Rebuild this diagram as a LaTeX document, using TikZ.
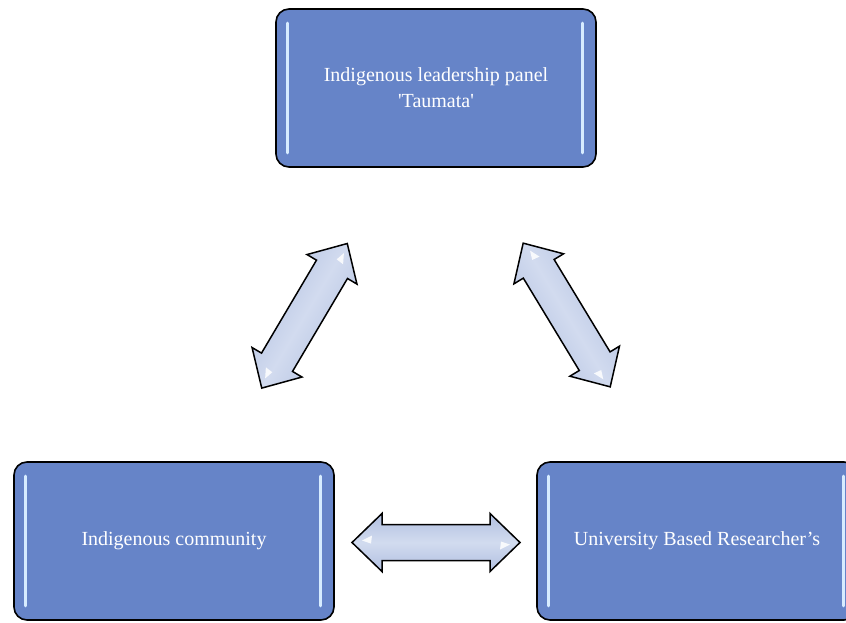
\documentclass[tikz,border=0pt]{standalone}
\usepackage{fontspec}
\setmainfont{Liberation Serif}
\usetikzlibrary{calc}
\definecolor{boxblue}{RGB}{102,132,200}
\definecolor{arrowblue}{RGB}{176,191,224}
\definecolor{arrowlight}{RGB}{210,219,239}
\definecolor{glow}{RGB}{215,236,255}
\tikzset{
  box/.style={draw=black, line width=1.6pt, fill=boxblue, rounded corners=13pt,
    minimum width=320pt, minimum height=158pt, text=white, align=center,
    font=\fontsize{20}{26}\selectfont, inner sep=0pt},
  hilite/.style={draw=glow, line width=3.2pt, line cap=round},
  arrowshape/.style={draw=black, line width=1.5pt, line join=miter,
    top color=arrowblue, bottom color=arrowblue, middle color=arrowlight},
  spark/.style={fill=white, draw=none, opacity=0.85},
  pics/dbl/.style={code={
    \path[arrowshape, shading angle=#1] (-84,0) -- (-54,-29) -- (-54,-18) -- (54,-18) -- (54,-29)
      -- (84,0) -- (54,29) -- (54,18) -- (-54,18) -- (-54,29) -- cycle;
    \path[spark] (-74,-2) -- (-64,-7) -- (-65,1) -- cycle;
    \path[spark] (74,2) -- (64,7) -- (65,-1) -- cycle;
  }}
}
\begin{document}
\begin{tikzpicture}[x=1pt, y=-1pt]
\useasboundingbox (0,0) rectangle (846,623);
\clip (0,0) rectangle (846,623);
\fill[white] (0,0) rectangle (846,623);

\node[box] (top) at (436,88) {Indigenous leadership panel\\\textquotesingle Taumata\textquotesingle};
\node[box] (left) at (174,541) {Indigenous community};
\node[box] (right) at (697,541) {University Based Researcher's};

\foreach \n in {top,left,right}{
  \draw[hilite] ($(\n.north west)+(12,15)$) -- ($(\n.south west)+(12,-15)$);
  \draw[hilite] ($(\n.north east)+(-14,15)$) -- ($(\n.south east)+(-14,-15)$);
}

\pic[rotate=59.4] at (304.5,315.8) {dbl=59.4};
\pic[rotate=-58.8] at (566.7,315) {dbl=-58.8};
\pic at (436,542.5) {dbl=0};
\end{tikzpicture}
\end{document}
